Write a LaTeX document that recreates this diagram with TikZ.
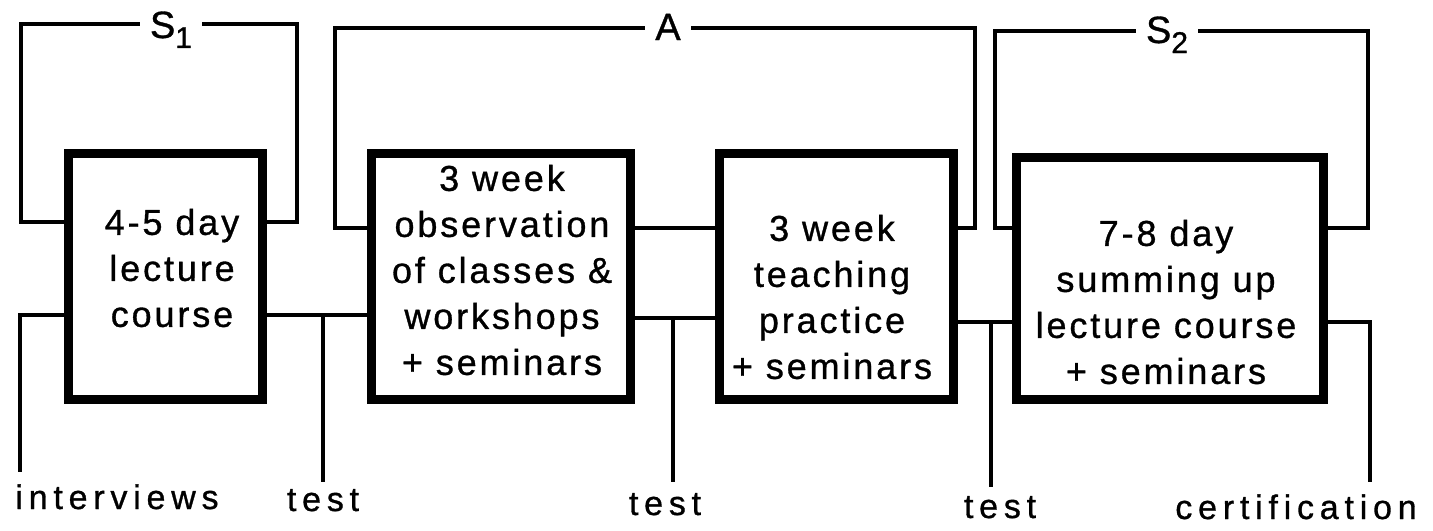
\documentclass[tikz,border=0pt]{standalone}
\usepackage{fontspec}
\setmainfont{Liberation Sans}
\begin{document}
\begin{tikzpicture}[x=0.5pt, y=-0.5pt,
  box/.style={draw, rectangle, line width=4.5pt, inner sep=0pt},
  boxtext/.style={align=center, inner sep=0pt,
    font=\fontsize{18}{23}\selectfont\addfontfeatures{FakeBold=0.9,LetterSpace=8}},
  wire/.style={line width=1.7pt},
  tag/.style={anchor=base, inner sep=0pt,
    font=\fontsize{17}{20}\selectfont\addfontfeatures{FakeBold=0.9,LetterSpace=17}},
  looplabel/.style={anchor=base, inner xsep=5pt, inner ysep=0pt,
    font=\fontsize{19}{20}\selectfont\addfontfeatures{FakeBold=0.9}}
]
\useasboundingbox (0,0) rectangle (1433,530);

% horizontal levels used by the connectors
\coordinate (yS1) at (0,24);
\coordinate (yA) at (0,28);
\coordinate (yS2) at (0,31);
\coordinate (yloop1) at (0,222);
\coordinate (yloopA) at (0,228);
\coordinate (yloop2) at (0,228);
\coordinate (ylow1) at (0,315);
\coordinate (ylow2) at (0,318);
\coordinate (ylow3) at (0,322);

% the four course stages
\node[box, minimum width=97pt, minimum height=123pt] (b1) at (165.5,276.5) {};
\node[box, minimum width=129.5pt, minimum height=123pt] (b2) at (501,276.5) {};
\node[box, minimum width=117pt, minimum height=123pt] (b3) at (836.5,276.5) {};
\node[box, minimum width=153.5pt, minimum height=121pt] (b4) at (1170,278.5) {};

\node[boxtext] (t1) at (172,268) {4-5 day\\lecture\\course};
\node[boxtext] (t2) at (502,270) {3 week\\observation\\of classes \&\\workshops\\+ seminars};
\node[boxtext] (t3) at (832,297) {3 week\\teaching\\practice\\+ seminars};
\node[boxtext] (t4) at (1166,302) {7-8 day\\summing up\\lecture course\\+ seminars};

% loop labels
\node[looplabel] (S1) at (171,38) {S\raisebox{-5pt}{\fontsize{15}{15}\selectfont 1}};
\node[looplabel] (A) at (668,40) {A};
\node[looplabel] (S2) at (1167,43) {S\raisebox{-5pt}{\fontsize{15}{15}\selectfont 2}};

% loop corners
\coordinate (s1a) at (21,24);
\coordinate (s1b) at (297,24);
\coordinate (aa) at (335,28);
\coordinate (ab) at (975,28);
\coordinate (s2a) at (995,31);
\coordinate (s2b) at (1368,31);

% feedback loops over the stages
\draw[wire] (b1.west |- yloop1) -| (s1a) -- (S1.west |- yS1);
\draw[wire] (S1.east |- yS1) -- (s1b) |- (b1.east |- yloop1);
\draw[wire] (b2.west |- yloopA) -| (aa) -- (A.west |- yA);
\draw[wire] (A.east |- yA) -- (ab) |- (b3.east |- yloopA);
\draw[wire] (b4.west |- yloop2) -| (s2a) -- (S2.west |- yS2);
\draw[wire] (S2.east |- yS2) -- (s2b) |- (b4.east |- yloop2);

% links between stages
\draw[wire] (b2.east |- yloopA) -- (b3.west |- yloopA);
\draw[wire] (b1.east |- ylow1) -- (b2.west |- ylow1);
\draw[wire] (b2.east |- ylow2) -- (b3.west |- ylow2);
\draw[wire] (b3.east |- ylow3) -- (b4.west |- ylow3);

% drops to the bottom labels
\coordinate (iv) at (20,472);
\coordinate (j1) at (323,315);
\coordinate (j1e) at (323,482);
\coordinate (j2) at (673,318);
\coordinate (j2e) at (673,482);
\coordinate (j3) at (991,322);
\coordinate (j3e) at (991,487);
\coordinate (ce) at (1370,482);

\draw[wire] (b1.west |- ylow1) -| (iv);
\draw[wire] (j1) -- (j1e);
\draw[wire] (j2) -- (j2e);
\draw[wire] (j3) -- (j3e);
\draw[wire] (b4.east |- ylow3) -| (ce);

\node[tag] (l1) at (117,509) {interviews};
\node[tag] (l2) at (323,511) {test};
\node[tag] (l3) at (665,515) {test};
\node[tag] (l4) at (1000,518) {test};
\node[tag] (l5) at (1296,519) {certification};
\end{tikzpicture}
\end{document}
